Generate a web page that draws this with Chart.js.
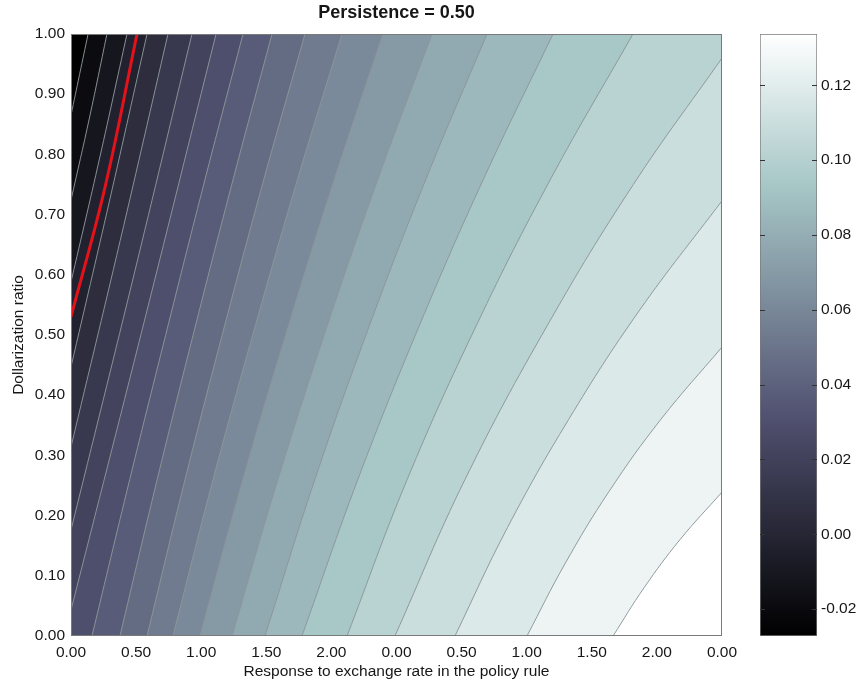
<!DOCTYPE html>
<html>
<head>
<meta charset="utf-8">
<script src="https://cdn.jsdelivr.net/npm/chart.js@4.4.0/dist/chart.umd.min.js"></script>
<style>
  body { margin: 0; background: #ffffff; }
  #wrap { position: relative; width: 862px; height: 685px; }
  #plot { position: absolute; left: 0; top: 0; }
  #colorbar { position: absolute; left: 740px; top: 0; }
</style>
</head>
<body>
<div id="wrap">
  <canvas id="plot" width="793" height="685"></canvas>
  <canvas id="colorbar" width="122" height="685"></canvas>
</div>
<script>
// axes
const xRange = [0, 5];
const yRange = [0, 1];
const xTickLabels = ['0.00', '0.50', '1.00', '1.50', '2.00', '0.00', '0.50', '1.00', '1.50', '2.00', '0.00'];
const yTickValues = [0, 0.1, 0.2, 0.3, 0.4, 0.5, 0.6, 0.7, 0.8, 0.9, 1.0];

// colour scale
const colorRange = [-0.0272, 0.1337];
const colorbarTicks = [-0.02, 0.00, 0.02, 0.04, 0.06, 0.08, 0.10, 0.12];

// contour lines, darkest first, each as [x, y] points
const contourLines = [
  [[0, 0.865], [0.066, 0.933], [0.131, 1]],
  [[0, 0.724], [0.143, 0.862], [0.276, 1]],
  [[0, 0.588], [0.220, 0.794], [0.430, 1]],
  [[0, 0.447], [0.297, 0.724], [0.584, 1]],
  [[0, 0.314], [0.378, 0.657], [0.745, 1]],
  [[0, 0.176], [0.470, 0.588], [0.929, 1]],
  [[0, 0.043], [0.562, 0.522], [1.114, 1]],
  [[0.161, 0], [0.451, 0.26], [0.748, 0.518], [1.031, 0.76], [1.321, 1]],
  [[0.376, 0], [0.662, 0.26], [0.959, 0.518], [1.247, 0.76], [1.544, 1]],
  [[0.584, 0], [0.876, 0.26], [1.183, 0.518], [1.483, 0.76], [1.797, 1]],
  [[0.783, 0], [1.091, 0.26], [1.419, 0.518], [1.742, 0.76], [2.081, 1]],
  [[0.991, 0], [1.320, 0.26], [1.674, 0.518], [2.025, 0.76], [2.396, 1]],
  [[1.237, 0], [1.589, 0.26], [1.972, 0.518], [2.359, 0.76], [2.773, 1]],
  [[1.490, 0], [1.873, 0.26], [2.296, 0.518], [2.728, 0.76], [3.195, 1]],
  [[1.774, 0], [2.203, 0.26], [2.680, 0.518], [3.170, 0.76], [3.702, 1]],
  [[2.120, 0], [2.582, 0.26], [3.118, 0.518], [3.686, 0.76], [4.316, 1]],
  [[2.488, 0], [3.026, 0.26], [3.664, 0.518], [4.319, 0.75], [5, 0.960]],
  [[2.949, 0], [3.352, 0.18], [3.823, 0.36], [4.363, 0.54], [5, 0.723]],
  [[3.502, 0], [3.794, 0.12], [4.132, 0.24], [4.531, 0.36], [5, 0.480]],
  [[4.163, 0], [4.401, 0.08], [4.677, 0.16], [5, 0.239]]
];

// red overlay line
const zeroContour = [[0, 0.530], [0.262, 0.746], [0.507, 1]];

const FONT = "'Liberation Sans', Arial, Helvetica, sans-serif";
const TEXT = '#161616';

// matplotlib style "bone" colormap
function bone(t) {
  t = Math.min(1, Math.max(0, t));
  function interp(knots) {
    for (let i = 1; i < knots.length; i++) {
      if (t <= knots[i][0]) {
        const a = knots[i - 1], b = knots[i];
        return a[1] + (b[1] - a[1]) * (t - a[0]) / (b[0] - a[0]);
      }
    }
    return 1;
  }
  const r = interp([[0, 0], [0.746032, 0.652778], [1, 1]]);
  const g = interp([[0, 0], [0.365079, 0.319444], [0.746032, 0.777778], [1, 1]]);
  const b = interp([[0, 0], [0.365079, 0.444444], [1, 1]]);
  return 'rgb(' + Math.round(r * 255) + ',' + Math.round(g * 255) + ',' + Math.round(b * 255) + ')';
}

// closed region on the dark (upper left) side of a contour line
function regionPoints(line) {
  const pts = [];
  const add = p => pts.push({ x: p[0], y: p[1] });
  const dup = p => { add(p); add(p); };   // doubled points keep edges straight with tension
  const first = line[0];
  const last = line[line.length - 1];
  dup([xRange[0], yRange[1]]);
  if (first[1] === yRange[0]) dup([xRange[0], yRange[0]]);
  dup(first);
  line.slice(1, -1).forEach(add);
  dup(last);
  if (last[0] === xRange[1]) dup([xRange[1], yRange[1]]);
  return pts;
}

const toXY = line => line.map(p => ({ x: p[0], y: p[1] }));

const datasets = [];
datasets.push({
  data: toXY(zeroContour),
  borderColor: '#e3121b',
  borderWidth: 3,
  fill: false,
  tension: 0.4,
  pointRadius: 0,
  order: 0
});
contourLines.forEach(line => {
  datasets.push({
    data: toXY(line),
    borderColor: 'rgba(140,150,152,0.95)',
    borderWidth: 1,
    fill: false,
    tension: 0.4,
    pointRadius: 0,
    order: 1
  });
});
contourLines.forEach((line, i) => {
  datasets.push({
    data: regionPoints(line),
    backgroundColor: bone(i / contourLines.length),
    borderColor: 'rgba(0,0,0,0)',
    borderWidth: 0,
    fill: 'shape',
    tension: 0.4,
    pointRadius: 0,
    order: 2
  });
});

const framePlugin = {
  id: 'frame',
  afterDatasetsDraw(chart) {
    const { ctx, chartArea: a } = chart;
    ctx.save();
    ctx.strokeStyle = '#7a7a7a';
    ctx.lineWidth = 1;
    ctx.strokeRect(a.left + 0.5, a.top + 0.5, a.width - 1, a.height - 1);
    ctx.restore();
  }
};

new Chart(document.getElementById('plot'), {
  type: 'line',
  data: { datasets: datasets },
  options: {
    responsive: false,
    animation: false,
    events: [],
    layout: { padding: { left: 0, right: 71, top: 0, bottom: 0 } },
    plugins: {
      legend: { display: false },
      tooltip: { enabled: false },
      title: {
        display: true,
        fullSize: false,
        text: 'Persistence = 0.50',
        color: TEXT,
        font: { family: FONT, size: 18, weight: 'bold' },
        padding: { top: 2, bottom: 10.4 }
      }
    },
    scales: {
      x: {
        type: 'linear',
        min: xRange[0],
        max: xRange[1],
        afterBuildTicks: s => { s.ticks = xTickLabels.map((t, i) => ({ value: i * 0.5 })); },
        afterFit: s => { s.height = 49; },
        grid: { display: false, drawTicks: false },
        border: { display: false },
        ticks: {
          padding: 7,
          maxRotation: 0,
          autoSkip: false,
          color: TEXT,
          font: { family: FONT, size: 15.5 },
          callback: (v, i) => xTickLabels[i]
        },
        title: {
          display: true,
          text: 'Response to exchange rate in the policy rule',
          color: TEXT,
          font: { family: FONT, size: 15.5 },
          padding: { top: 0, bottom: 4 }
        }
      },
      y: {
        type: 'linear',
        min: yRange[0],
        max: yRange[1],
        afterBuildTicks: s => { s.ticks = yTickValues.map(v => ({ value: v })); },
        afterFit: s => { s.width = 71; },
        grid: { display: false, drawTicks: false },
        border: { display: false },
        ticks: {
          padding: 6,
          color: TEXT,
          font: { family: FONT, size: 15.5 },
          callback: v => Number(v).toFixed(2)
        },
        title: {
          display: true,
          text: 'Dollarization ratio',
          color: TEXT,
          font: { family: FONT, size: 15.5 },
          padding: { top: 9, bottom: 0 }
        }
      }
    }
  },
  plugins: [framePlugin]
});

// colour bar
const cbMarks = {
  id: 'cbMarks',
  afterDatasetsDraw(chart) {
    const { ctx, chartArea: a, scales } = chart;
    ctx.save();
    ctx.strokeStyle = '#333333';
    ctx.lineWidth = 1;
    colorbarTicks.forEach(v => {
      const y = Math.round(scales.y.getPixelForValue(v)) + 0.5;
      ctx.beginPath();
      ctx.moveTo(a.left, y); ctx.lineTo(a.left + 5, y);
      ctx.moveTo(a.right - 5, y); ctx.lineTo(a.right, y);
      ctx.stroke();
    });
    ctx.restore();
  }
};

new Chart(document.getElementById('colorbar'), {
  type: 'bar',
  data: {
    labels: [''],
    datasets: [{
      data: [colorRange],
      backgroundColor: ctx => {
        const chart = ctx.chart;
        if (!chart.chartArea) return '#888';
        const y = chart.scales.y;
        const g = chart.ctx.createLinearGradient(0, y.getPixelForValue(colorRange[0]), 0, y.getPixelForValue(colorRange[1]));
        [0, 0.365079, 0.746032, 1].forEach(t => g.addColorStop(t, bone(t)));
        return g;
      },
      borderColor: '#7a7a7a',
      borderWidth: 1,
      borderSkipped: false,
      barPercentage: 1,
      categoryPercentage: 1
    }]
  },
  options: {
    responsive: false,
    animation: false,
    events: [],
    layout: { padding: { left: 20, right: 0, top: 34, bottom: 49 } },
    plugins: { legend: { display: false }, tooltip: { enabled: false } },
    scales: {
      x: { display: false },
      y: {
        position: 'right',
        min: colorRange[0],
        max: colorRange[1],
        afterBuildTicks: s => { s.ticks = colorbarTicks.map(v => ({ value: v })); },
        afterFit: s => { s.width = 45; },
        grid: { display: false, drawTicks: false },
        border: { display: false },
        ticks: {
          padding: 4,
          color: TEXT,
          font: { family: FONT, size: 15.5 },
          callback: v => Number(v).toFixed(2)
        }
      }
    }
  },
  plugins: [cbMarks]
});
</script>
</body>
</html>
